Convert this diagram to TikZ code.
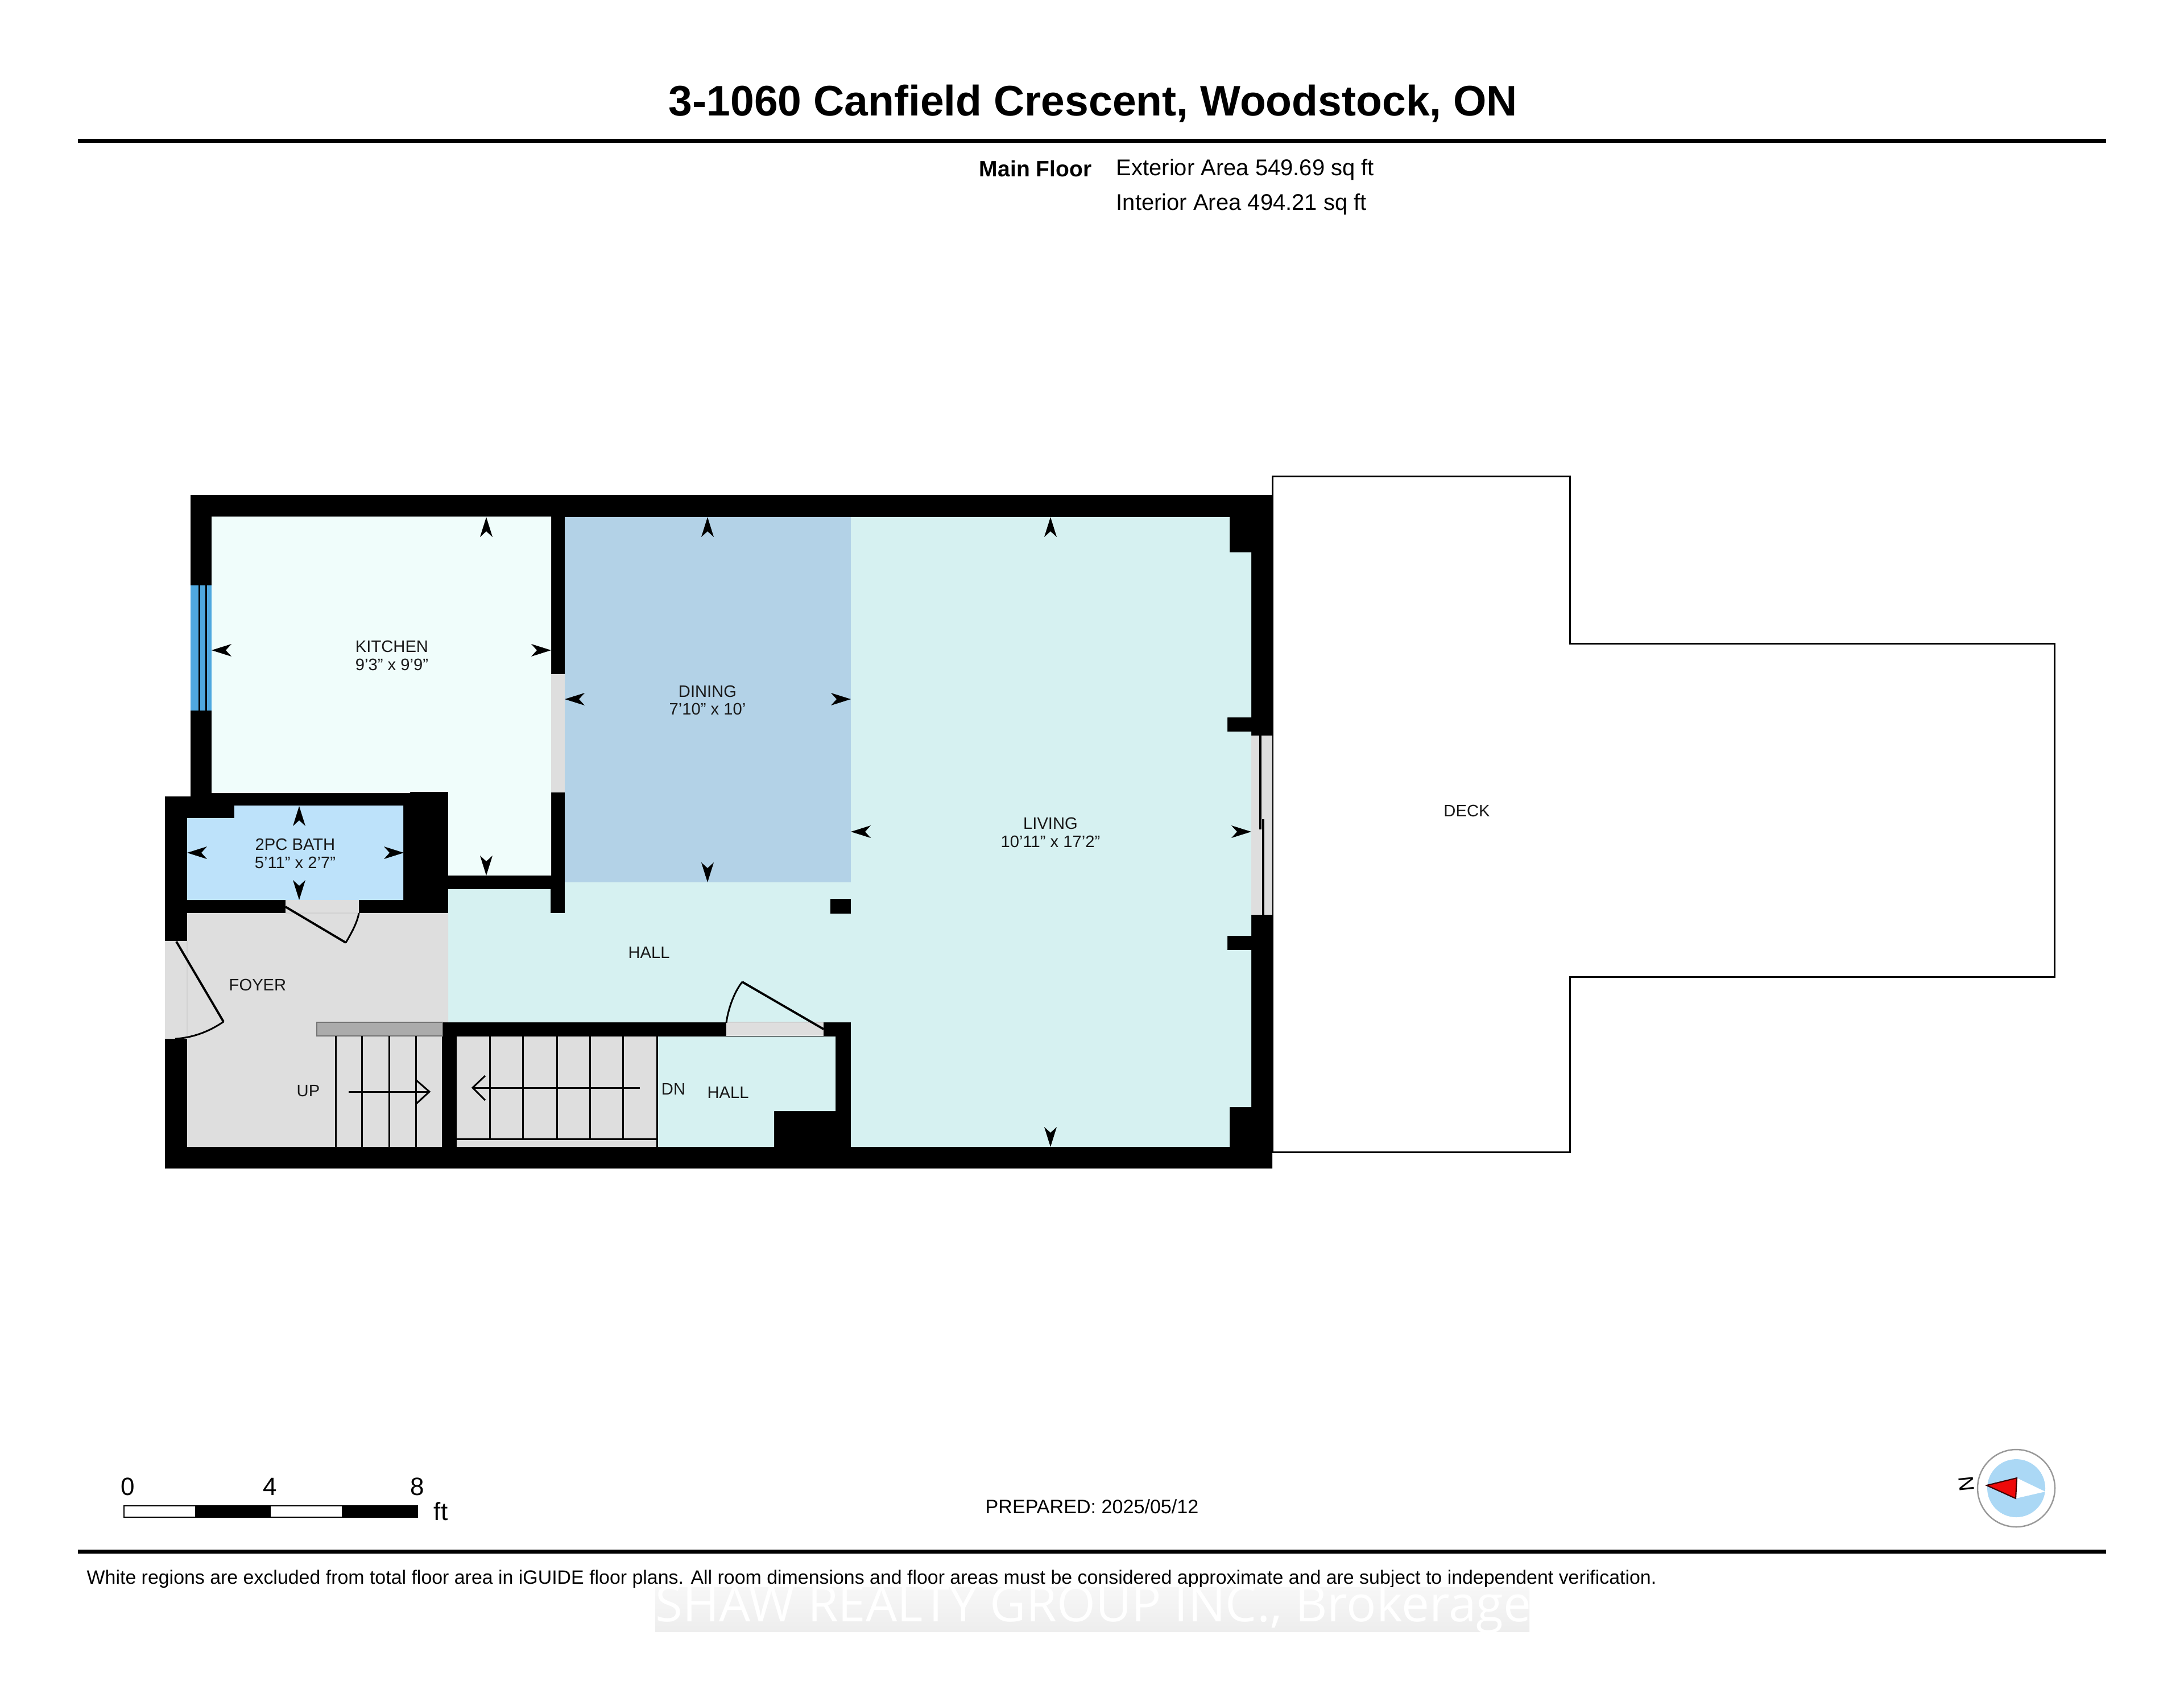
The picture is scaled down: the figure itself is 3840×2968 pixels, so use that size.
\documentclass[tikz,border=0pt]{standalone}
\usepackage{fontspec}
\setmainfont{Liberation Sans}
\newfontfamily\wmfont{Open Sans}
\definecolor{kitchenc}{HTML}{F0FDFB}
\definecolor{diningc}{HTML}{B3D2E7}
\definecolor{livingc}{HTML}{D6F1F1}
\definecolor{bathc}{HTML}{BDE2FA}
\definecolor{floorc}{HTML}{DEDEDE}
\definecolor{windowc}{HTML}{4FA8DF}
\definecolor{railc}{HTML}{ABABAB}
\definecolor{compassc}{HTML}{ABD8F5}
\definecolor{needlec}{HTML}{EE0A0A}
\newcommand{\dimtip}[3]{\begin{scope}[shift={(#1,#2)},rotate=#3]\fill[black] (0,0) -- (35,11) -- (25,0) -- (35,-11) -- cycle;\end{scope}}
\tikzset{
  roomlabel/.style={font=\fontsize{8.3}{9}\selectfont, inner sep=0pt, align=center, text=black!90},
  infotext/.style={font=\fontsize{11.37}{13}\selectfont, inner sep=0pt},
  thinline/.style={line width=0.85pt, draw=black},
  doorline/.style={line width=1.1pt, draw=black},
  rulebar/.style={line width=2pt, draw=black},
  faintline/.style={line width=0.4pt, draw=black!18},
  scalenum/.style={font=\fontsize{12.5}{14}\selectfont, inner sep=0pt}
}
\begin{document}
\begin{tikzpicture}[x=0.01cm,y=-0.01cm]
\useasboundingbox (0,0) rectangle (3840,2968);
\fill[white] (0,0) rectangle (3840,2968);
% header
\node[font=\fontsize{21.35}{25}\selectfont\bfseries, inner sep=0pt] (title) at (1922,182) {3-1060 Canfield Crescent, Woodstock, ON};
\draw[rulebar] (137,247) -- (3703,247);
\node[infotext, font=\fontsize{11.1}{13}\selectfont\bfseries, anchor=east] (mainfloor) at (1920,297) {Main Floor};
\node[infotext, anchor=west] (extarea) at (1962,298) {Exterior Area 549.69 sq ft};
\node[infotext, anchor=west] (intarea) at (1962,359) {Interior Area 494.21 sq ft};
% deck
\draw[thinline, fill=white] (2237,837) -- (2760,837) -- (2760,1131) -- (3612,1131) -- (3612,1717) -- (2760,1717) -- (2760,2025) -- (2237,2025) -- cycle;
% walls
\fill[black] (335,870) -- (2237,870) -- (2237,2054) -- (290,2054) -- (290,1400) -- (335,1400) -- cycle;
% rooms
\fill[kitchenc] (372,908) -- (969,908) -- (969,1539) -- (788,1539) -- (788,1392) -- (721,1392) -- (721,1394) -- (372,1394) -- cycle;
\fill[bathc] (329,1438) -- (412,1438) -- (412,1416) -- (709,1416) -- (709,1582) -- (329,1582) -- cycle;
\fill[livingc] (993,909) -- (2162,909) -- (2162,971) -- (2200,971) -- (2200,1261) -- (2158,1261) -- (2158,1286) -- (2200,1286) -- (2200,1645) -- (2158,1645) -- (2158,1670) -- (2200,1670) -- (2200,1946) -- (2162,1946) -- (2162,2016) -- (1496,2016) -- (1496,1797) -- (788,1797) -- (788,1563) -- (968,1563) -- (968,1605) -- (993,1605) -- cycle;
\fill[diningc] (993,909) rectangle (1496,1551);
\fill[black] (1460,1580) rectangle (1496,1606);
\fill[floorc] (329,1605) -- (788,1605) -- (788,1797) -- (777,1797) -- (777,2016) -- (329,2016) -- cycle;
\fill[livingc] (1155,1822) -- (1469,1822) -- (1469,1953) -- (1361,1953) -- (1361,2016) -- (1155,2016) -- cycle;
\fill[floorc] (803,1822) rectangle (1154,2016);
% openings
\fill[windowc] (335,1029) rectangle (372,1249);
\draw[thinline] (350,1029) -- (350,1249);
\draw[thinline] (362,1029) -- (362,1249);
\fill[floorc] (969,1185) rectangle (993,1393);
\fill[floorc] (290,1654) rectangle (329,1826);
\draw[faintline] (329,1654) -- (329,1826);
\fill[floorc] (502,1582) rectangle (631,1605);
\draw[faintline] (502,1605) -- (631,1605);
\fill[floorc] (1277,1797) rectangle (1448,1821);
\draw[faintline] (1277,1797) -- (1448,1797);
\fill[floorc] (2200,1293) rectangle (2237,1608);
\draw[line width=1pt] (2216,1293) -- (2216,1458);
\draw[line width=1pt] (2221,1440) -- (2221,1608);
% doors
\draw[doorline] (310,1655) -- (393,1796);
\draw[line width=0.85pt] (393,1796) .. controls (368,1813) and (340,1824) .. (308,1826);
\draw[doorline] (502,1594) -- (608,1657);
\draw[line width=0.85pt] (608,1657) .. controls (618,1640) and (628,1622) .. (631,1605);
\draw[doorline] (1448,1809) -- (1305,1726);
\draw[line width=0.85pt] (1305,1726) .. controls (1290,1745) and (1280,1775) .. (1277,1798);
% stairs up
\fill[railc] (557,1797) rectangle (778,1821);
\draw[line width=0.4pt, draw=black!55] (557,1797) rectangle (778,1821);
\foreach \sx in {590,636,684,731} {\draw[thinline] (\sx,1821) -- (\sx,2016);}
\draw[thinline] (613,1919) -- (755,1919);
\draw[thinline] (732,1899) -- (755,1919) -- (732,1940);
% stairs down
\foreach \sx in {861,919,979,1037,1095} {\draw[thinline] (\sx,1822) -- (\sx,2002);}
\draw[thinline] (803,2002) -- (1154,2002);
\draw[thinline] (1155,1822) -- (1155,2016);
\draw[thinline] (1125,1912) -- (831,1912);
\draw[thinline] (853,1891) -- (831,1912) -- (853,1934);
% dimension arrows
\dimtip{855}{909}{-90}\dimtip{372}{1143}{0}\dimtip{969}{1143}{180}\dimtip{855}{1539}{90}
\dimtip{526}{1417}{-90}\dimtip{526}{1582}{90}\dimtip{329}{1499}{0}\dimtip{710}{1499}{180}
\dimtip{1244}{909}{-90}\dimtip{993}{1229}{0}\dimtip{1496}{1229}{180}\dimtip{1244}{1551}{90}
\dimtip{1847}{909}{-90}\dimtip{1496}{1462}{0}\dimtip{2200}{1462}{180}\dimtip{1847}{2016}{90}
% labels
\node[roomlabel] (kitchen) at (689,1136) {KITCHEN};
\node[roomlabel] (kitchendim) at (689,1168) {9'3" x 9'9"};
\node[roomlabel] (bath) at (519,1484) {2PC BATH};
\node[roomlabel] (bathdim) at (519,1516) {5'11" x 2'7"};
\node[roomlabel] (dining) at (1244,1215) {DINING};
\node[roomlabel] (diningdim) at (1244,1246) {7'10" x 10'};
\node[roomlabel] (living) at (1847,1447) {LIVING};
\node[roomlabel] (livingdim) at (1847,1479) {10'11" x 17'2"};
\node[roomlabel] (hall) at (1141,1674) {HALL};
\node[roomlabel] (foyer) at (453,1731) {FOYER};
\node[roomlabel] (up) at (542,1918) {UP};
\node[roomlabel] (dn) at (1184,1914) {DN};
\node[roomlabel] (hallb) at (1280,1920) {HALL};
\node[roomlabel] (deck) at (2579,1425) {DECK};
% scale bar
\fill[white] (218,2647) rectangle (343,2667);
\fill[black] (343,2647) rectangle (476,2667);
\fill[white] (476,2647) rectangle (601,2667);
\fill[black] (601,2647) rectangle (734,2667);
\draw[line width=0.7pt] (218,2647) rectangle (734,2667);
\node[scalenum] (sn0) at (225,2613) {0};
\node[scalenum] (sn4) at (475,2613) {4};
\node[scalenum] (sn8) at (734,2613) {8};
\node[scalenum] (snft) at (775,2657) {ft};
% prepared
\node[infotext, font=\fontsize{9.7}{12}\selectfont] (prepared) at (1920,2648) {PREPARED: 2025/05/12};
% compass
\draw[line width=0.7pt, draw=black!40, fill=white] (3545,2616) circle (68);
\fill[compassc] (3545,2616) circle (51);
\fill[white] (3546,2598) -- (3596,2622) -- (3544,2634) -- cycle;
\draw[line width=0.6pt, draw=black!75!red, fill=needlec] (3493,2611) -- (3546,2598) -- (3544,2634) -- cycle;
\node[font=\fontsize{10.5}{12}\selectfont, inner sep=0pt, rotate=-84] (north) at (3457,2608) {N};
% footer
\draw[rulebar] (137,2727) -- (3703,2727);
\node[font=\fontsize{9.64}{12}\selectfont, inner sep=0pt, anchor=west] (disclaimer) at (152,2776) {White regions are excluded from total floor area in iGUIDE floor plans. All room dimensions and floor areas must be considered approximate and are subject to independent verification.};
% watermark
\fill[top color=black!3, bottom color=black!7] (1152,2790) rectangle (2689,2868);
\node[font=\wmfont\fontsize{24.8}{28}\selectfont, text=white, inner sep=0pt, anchor=base west] (watermark) at (1152,2850) {SHAW REALTY GROUP INC., Brokerage};
\end{tikzpicture}
\end{document}
